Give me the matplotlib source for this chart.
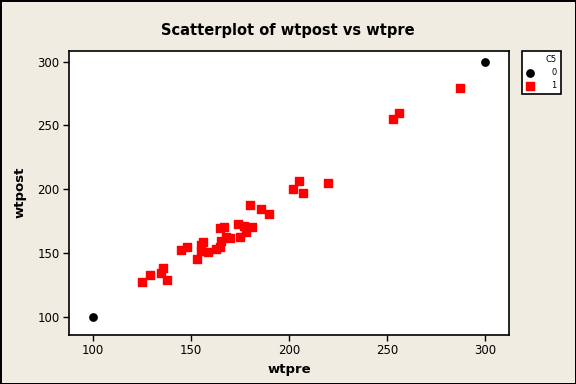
import matplotlib
matplotlib.use("Agg")
import matplotlib.pyplot as plt

# wtpre / wtpost, split by group C5
wtpre_0 = [100, 300]
wtpost_0 = [100, 300]

wtpre_1 = [125.0, 129.1, 135.7, 134.6, 137.8, 144.9, 148.0, 153.1, 155.1, 156.2,
           155.1, 158.6, 162.8, 164.8, 165.2, 164.8, 166.9, 167.9, 169.9, 174.0,
           177.1, 181.2, 178.1, 175.0, 180.1, 185.8, 189.8, 202.1, 205.2, 207.2,
           220.0, 253.1, 256.2, 287.3]
wtpost_1 = [127.6, 133.1, 138.6, 134.6, 129.2, 152.7, 155.0, 145.6, 156.3, 158.9,
            151.6, 151.1, 153.4, 155.0, 160.0, 169.9, 170.7, 162.9, 162.1, 173.0,
            171.5, 170.9, 166.8, 162.9, 187.9, 184.8, 180.9, 200.5, 206.7, 197.3,
            205.2, 255.3, 259.5, 279.6]

ticks = [100, 150, 200, 250, 300]

bg = '#F0ECE1'
fig = plt.figure(figsize=(5.76, 3.84), dpi=100, facecolor=bg)
fig.patch.set_edgecolor('black')
fig.patch.set_linewidth(2)

ax = fig.add_axes([69.4/576, 1-334.5/384, (509.2-69.4)/576, (334.5-50.7)/384])
ax.set_facecolor('white')

ax.scatter(wtpre_0, wtpost_0, marker='o', s=28, color='black', label='0', zorder=3)
ax.scatter(wtpre_1, wtpost_1, marker='s', s=26, color='#FF0000', label='1', zorder=3)

ax.set_xlim(87.8, 312.4)
ax.set_ylim(86.5, 308.5)
ax.set_xticks(ticks)
ax.set_yticks(ticks)
ax.tick_params(direction='out', length=4, width=1, labelsize=8.5, pad=3)
for s in ax.spines.values():
    s.set_linewidth(1.2)

ax.set_xlabel('wtpre', fontsize=9.5, fontweight='bold', labelpad=4)
ax.set_ylabel('wtpost', fontsize=9.5, fontweight='bold', labelpad=8)
fig.suptitle('Scatterplot of wtpost vs wtpre', fontsize=10.5, fontweight='bold',
             y=1-30/384, va='center')

# legend box to the right of the plot
leg = fig.legend(loc='upper left', bbox_to_anchor=(522/576, 1-50.7/384), borderaxespad=0,
                 title='C5', fontsize=6, title_fontsize=6, frameon=True, fancybox=False,
                 edgecolor='black', facecolor='white', framealpha=1, alignment='right',
                 handlelength=1.0, handletextpad=2.0, borderpad=0.5, labelspacing=0.5)
leg.get_frame().set_linewidth(1.2)

fig.savefig('out.png', dpi=100, facecolor=bg)
